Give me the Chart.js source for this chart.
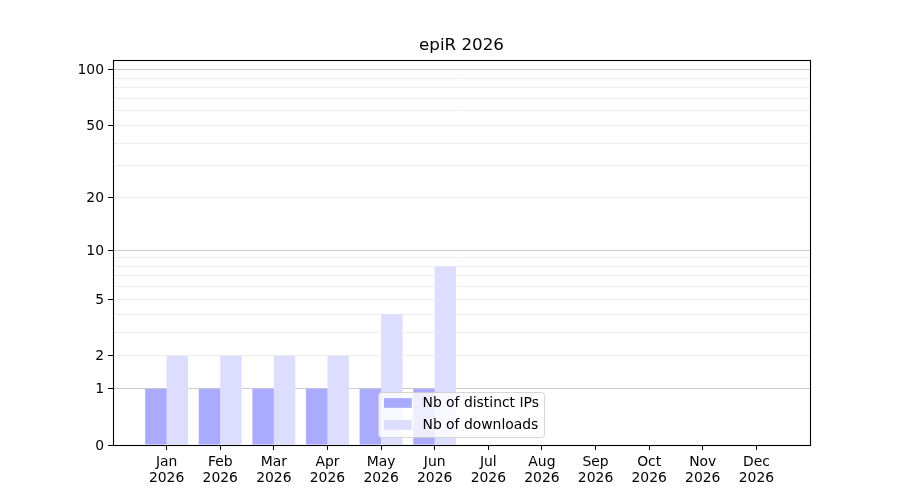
<!DOCTYPE html>
<html>
<head>
<meta charset="utf-8">
<title>epiR 2026</title>
<script src="https://cdn.jsdelivr.net/npm/chart.js@4.4.1/dist/chart.umd.min.js"></script>
<style>
  html, body { margin: 0; padding: 0; background: #fff; }
  #wrap { width: 900px; height: 500px; }
</style>
</head>
<body>
<div id="wrap"><canvas id="myChart"></canvas></div>
<script>
// Datos del gráfico
const titulo = 'epiR 2026';
const meses = ['Jan', 'Feb', 'Mar', 'Apr', 'May', 'Jun', 'Jul', 'Aug', 'Sep', 'Oct', 'Nov', 'Dec'];
const anio = '2026';
const ipsDistintas = [1, 1, 1, 1, 1, 1, null, null, null, null, null, null];
const descargas = [2, 2, 2, 2, 4, 8, null, null, null, null, null, null];
const ticksConEtiqueta = [0, 1, 2, 5, 10, 20, 50, 100];
const ticksMayores = [1, 10, 100];
const ticksMenores = [2, 3, 4, 5, 6, 7, 8, 9, 20, 30, 40, 50, 60, 70, 80, 90];
const yMax = 113;

// escala log10(1 + x)
const transf = v => (v === null ? null : Math.log10(1 + v));
const cerca = (a, b) => Math.abs(a - b) < 1e-6;
const esDe = (lista, valor) => lista.some(t => cerca(transf(t), valor));

Chart.defaults.font.family = "'DejaVu Sans', sans-serif";
Chart.defaults.font.size = 13.9;
Chart.defaults.color = '#000';

// Título, marco y leyenda dibujados a mano (estilo matplotlib)
const marcoYLeyenda = {
    id: 'marcoYLeyenda',
    afterDraw(chart) {
        const c = chart.ctx;
        const a = chart.chartArea;
        c.save();

        // título centrado sobre el área de dibujo
        c.font = "16.7px 'DejaVu Sans', sans-serif";
        c.fillStyle = '#000';
        c.textAlign = 'center';
        c.textBaseline = 'middle';
        c.fillText(titulo, (a.left + a.right) / 2, a.top - 14);

        c.strokeStyle = '#000';
        c.lineWidth = 1.1;
        c.strokeRect(Math.round(a.left) + 0.5, Math.round(a.top) + 0.5,
            Math.round(a.right - a.left), Math.round(a.bottom - a.top));

        // leyenda
        const lx = 378.5, ly = 392.5, lw = 166, lh = 45, r = 3;
        c.beginPath();
        c.roundRect(lx, ly, lw, lh, r);
        c.fillStyle = 'rgba(255,255,255,0.8)';
        c.fill();
        c.strokeStyle = 'rgba(204,204,204,0.8)';
        c.lineWidth = 1;
        c.stroke();

        c.font = "13.9px 'DejaVu Sans', sans-serif";
        c.textBaseline = 'middle';
        c.textAlign = 'left';
        chart.data.datasets.forEach((ds, i) => {
            const cy = 403 + i * 22;
            c.fillStyle = ds.backgroundColor;
            c.fillRect(384, cy - 4.9, 27.8, 9.7);
            c.fillStyle = '#000';
            c.fillText(ds.label, 422.5, cy + 0.5);
        });
        c.restore();
    }
};

const ctx = document.getElementById('myChart').getContext('2d');
const myChart = new Chart(ctx, {
    type: 'bar',
    data: {
        datasets: [{
            label: 'Nb of distinct IPs',
            data: ipsDistintas.map((v, i) => ({ x: i, y: transf(v) })),
            backgroundColor: '#aaaaff',
            borderWidth: 0,
            categoryPercentage: 0.8,
            barPercentage: 1.0
        }, {
            label: 'Nb of downloads',
            data: descargas.map((v, i) => ({ x: i, y: transf(v) })),
            backgroundColor: '#ddddff',
            borderWidth: 0,
            categoryPercentage: 0.8,
            barPercentage: 1.0
        }]
    },
    options: {
        responsive: true,
        maintainAspectRatio: false,
        animation: false,
        layout: { padding: { left: 0, right: 90, top: 60, bottom: 0 } },
        plugins: {
            legend: { display: false },
            tooltip: { enabled: false },
            title: { display: false }
        },
        scales: {
            x: {
                type: 'linear',
                min: -1,
                max: 12,
                offset: false,
                afterBuildTicks: scale => {
                    scale.ticks = meses.map((m, i) => ({ value: i }));
                },
                afterFit: scale => { scale.height = 55; },
                border: { display: false },
                grid: {
                    offset: false,
                    drawOnChartArea: false,
                    drawTicks: true,
                    tickLength: 5,
                    tickColor: '#000',
                    tickWidth: 1
                },
                ticks: {
                    autoSkip: false,
                    maxRotation: 0,
                    padding: 5,
                    font: { lineHeight: 1.1 },
                    callback: v => [meses[v], anio]
                }
            },
            y: {
                type: 'linear',
                min: 0,
                max: transf(yMax),
                z: 1,
                afterBuildTicks: scale => {
                    const todos = [...new Set([...ticksConEtiqueta, ...ticksMenores, ...ticksMayores])]
                        .sort((a, b) => a - b);
                    scale.ticks = todos.map(t => ({ value: transf(t) }));
                },
                afterFit: scale => { scale.width = 113; },
                border: { display: false },
                grid: {
                    drawTicks: true,
                    tickLength: 5,
                    lineWidth: 1,
                    color: c => {
                        const v = c.tick ? c.tick.value : 0;
                        if (cerca(v, 0)) return 'rgba(0,0,0,0)';
                        if (esDe(ticksMayores, v)) return '#cccccc';
                        return '#eeeeee';
                    },
                    tickColor: c => {
                        const v = c.tick ? c.tick.value : 0;
                        return esDe(ticksConEtiqueta, v) ? '#000' : 'rgba(0,0,0,0)';
                    }
                },
                ticks: {
                    autoSkip: false,
                    padding: 4,
                    labelOffset: 1,
                    callback: v => {
                        const t = ticksConEtiqueta.find(t => cerca(transf(t), v));
                        return t === undefined ? '' : String(t);
                    }
                }
            }
        }
    },
    plugins: [marcoYLeyenda]
});
</script>
</body>
</html>
